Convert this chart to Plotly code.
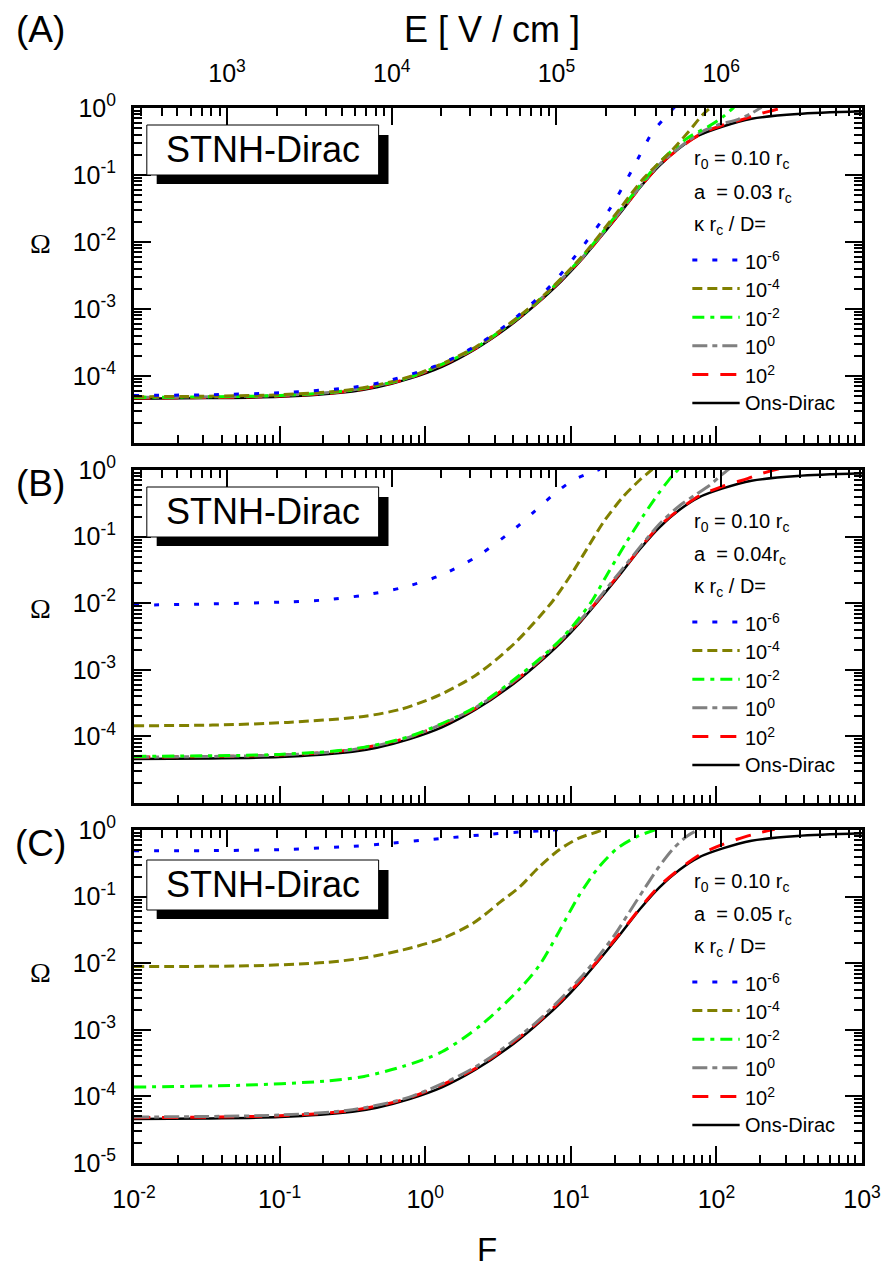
import numpy as np
import plotly.graph_objects as go

# ---------------- data (log10 values) ----------------
# Ons-Dirac reference curve (same in all panels)
ONS_logF = [-2.0, -1.5, -1.0, -0.5, -0.333, -0.108, 0.118, 0.344, 0.570, 0.751, 0.932,
            1.067, 1.203, 1.338, 1.474, 1.609, 1.745, 1.880, 2.038, 2.241, 2.557, 3.0]
ONS_logW = [-4.34, -4.33, -4.31, -4.23, -4.17, -4.04, -3.86, -3.60, -3.27, -2.95, -2.59,
            -2.28, -1.93, -1.57, -1.19, -0.86, -0.60, -0.41, -0.28, -0.16, -0.09, -0.05]

# Panel A : a = 0.03 rc
A_m6_logF = [-2, -1.5, -1, -0.5, -0.288, 0.096, 0.355, 0.615, 0.875, 1.094, 1.270, 1.417, 1.559, 1.665, 1.72]
A_m6_logW = [-4.29, -4.28, -4.25, -4.17, -4.09, -3.83, -3.54, -3.14, -2.62, -2.03, -1.50, -0.94, -0.37, -0.10, 0.03]
A_m4_logF = [-2, -1, -0.5, -0.108, 0.344, 0.751, 1.067, 1.338, 1.50, 1.70, 1.81, 1.91, 1.97]
A_m4_logW = [-4.31, -4.28, -4.20, -4.01, -3.57, -2.92, -2.24, -1.50, -1.05, -0.62, -0.35, -0.09, 0.02]
A_m2_logF = [-2, -1, -0.5, -0.108, 0.344, 0.751, 1.067, 1.338, 1.609, 1.80, 1.95, 2.04, 2.12]
A_m2_logW = [-4.32, -4.29, -4.21, -4.02, -3.58, -2.93, -2.25, -1.53, -0.81, -0.45, -0.27, -0.14, 0.01]
A_p0_logF = [-2, -1, -0.5, -0.108, 0.344, 0.751, 1.067, 1.338, 1.609, 1.880, 2.0, 2.15, 2.24, 2.31]
A_p0_logW = [-4.32, -4.29, -4.21, -4.02, -3.58, -2.93, -2.26, -1.55, -0.84, -0.38, -0.26, -0.17, -0.08, 0.01]
A_p2_logF = [-2, -1, -0.5, -0.108, 0.344, 0.751, 1.067, 1.338, 1.609, 1.880, 2.038, 2.15, 2.24, 2.31, 2.38, 2.47]
A_p2_logW = [-4.33, -4.30, -4.22, -4.03, -3.59, -2.94, -2.27, -1.56, -0.85, -0.40, -0.26, -0.19, -0.13, -0.08, -0.04, 0.01]

# Panel B : a = 0.04 rc
B_m6_logF = [-2, -1.46, -0.943, -0.683, -0.424, -0.164, 0.096, 0.355, 0.615, 0.751, 0.886, 1.01, 1.135, 1.2]
B_m6_logW = [-2.03, -2.01, -1.98, -1.95, -1.88, -1.77, -1.59, -1.30, -0.88, -0.62, -0.36, -0.16, -0.04, 0.01]
B_m4_logF = [-2, -1.46, -0.943, -0.424, -0.164, 0.096, 0.355, 0.615, 0.875, 0.999, 1.112, 1.225, 1.36, 1.474, 1.56]
B_m4_logW = [-3.84, -3.83, -3.79, -3.70, -3.59, -3.38, -3.07, -2.60, -1.97, -1.58, -1.18, -0.78, -0.40, -0.15, 0.01]
B_m2_logF = [-2, -1, -0.5, -0.108, 0.344, 0.751, 0.95, 1.135, 1.247, 1.383, 1.5, 1.6, 1.7, 1.76]
B_m2_logW = [-4.30, -4.27, -4.19, -4.00, -3.56, -2.90, -2.50, -2.00, -1.58, -1.08, -0.68, -0.36, -0.08, 0.05]
B_p0_logF = [-2, -1, -0.5, -0.108, 0.344, 0.751, 1.067, 1.338, 1.609, 1.745, 1.85, 1.947, 2.038, 2.09]
B_p0_logW = [-4.31, -4.28, -4.20, -4.01, -3.57, -2.92, -2.25, -1.53, -0.81, -0.54, -0.38, -0.24, -0.07, 0.02]
B_p2_logF = [-2, -1, -0.5, -0.108, 0.344, 0.751, 1.067, 1.338, 1.609, 1.880, 2.038, 2.218, 2.30, 2.38, 2.43]
B_p2_logW = [-4.31, -4.28, -4.20, -4.01, -3.58, -2.93, -2.26, -1.55, -0.84, -0.39, -0.25, -0.125, -0.06, -0.01, 0.02]

# Panel C : a = 0.05 rc
C_m6_logF = [-2, -1.5, -1, -0.5, -0.288, 0.096, 0.383, 0.651, 0.85, 0.95]
C_m6_logW = [-0.31, -0.31, -0.295, -0.245, -0.21, -0.13, -0.075, -0.03, -0.005, 0.01]
C_m4_logF = [-2, -1.224, -0.688, -0.42, -0.152, 0.115, 0.329, 0.517, 0.651, 0.785, 0.918, 1.052, 1.186, 1.23]
C_m4_logW = [-2.05, -2.04, -1.99, -1.92, -1.80, -1.63, -1.40, -1.08, -0.85, -0.55, -0.30, -0.125, -0.025, 0.01]
C_m2_logF = [-2, -1.224, -0.688, -0.42, -0.152, 0.115, 0.383, 0.651, 0.785, 0.918, 1.052, 1.186, 1.32, 1.454, 1.59]
C_m2_logW = [-3.86, -3.83, -3.77, -3.70, -3.55, -3.33, -2.93, -2.38, -2.03, -1.53, -1.00, -0.575, -0.275, -0.10, 0.01]
C_p0_logF = [-2, -1, -0.5, -0.108, 0.344, 0.751, 1.067, 1.3, 1.4, 1.5, 1.6, 1.7, 1.8, 1.9]
C_p0_logW = [-4.31, -4.28, -4.20, -4.01, -3.56, -2.91, -2.22, -1.58, -1.24, -0.90, -0.57, -0.29, -0.09, 0.03]
C_p2_logF = [-2, -1, -0.5, -0.108, 0.344, 0.751, 1.067, 1.338, 1.609, 1.880, 2.038, 2.2, 2.3, 2.4]
C_p2_logW = [-4.32, -4.29, -4.21, -4.02, -3.58, -2.93, -2.26, -1.55, -0.84, -0.38, -0.22, -0.10, -0.04, 0.01]

SERIES_LABELS = ["10<sup>-6</sup>", "10<sup>-4</sup>", "10<sup>-2</sup>", "10<sup>0</sup>", "10<sup>2</sup>", "Ons-Dirac"]
PANEL_TAGS = ["(A)", "(B)", "(C)"]
A_TEXTS = ["a\u00a0\u00a0= 0.03 r<sub>c</sub>", "a\u00a0\u00a0= 0.04r<sub>c</sub>", "a\u00a0\u00a0= 0.05 r<sub>c</sub>"]
R0_TEXT = "r<sub>0</sub> = 0.10 r<sub>c</sub>"
KAPPA_TEXT = "\u03ba r<sub>c</sub> / D="
F_TICKS = [1e-2, 1e-1, 1e0, 1e1, 1e2, 1e3]
F_TICKTEXT = ["10<sup>-2</sup>", "10<sup>-1</sup>", "10<sup>0</sup>", "10<sup>1</sup>", "10<sup>2</sup>", "10<sup>3</sup>"]
E_TICKS = [1e3, 1e4, 1e5, 1e6]
E_TICKTEXT = ["10<sup>3</sup>", "10<sup>4</sup>", "10<sup>5</sup>", "10<sup>6</sup>"]
W_TICKS = [1e-5, 1e-4, 1e-3, 1e-2, 1e-1, 1e0]
W_TICKTEXT = ["10<sup>-5</sup>", "10<sup>-4</sup>", "10<sup>-3</sup>", "10<sup>-2</sup>", "10<sup>-1</sup>", "10<sup>0</sup>"]
E_RANGE = [2.435, 6.855]

# ---------------- styles ----------------
FONT = "Liberation Sans, Arial, sans-serif"
STYLES = [  # (color, dash, width)
    ("#0000FF", "5px,15px", 3),
    ("#808000", "10px,5px", 3),
    ("#00FF00", "12px,6px,4px,6px", 3),
    ("#808080", "15px,5px,5px,5px", 3),
    ("#FF0000", "16px,12px", 3),
    ("#000000", "solid", 2.5),
]

W, H = 893, 1273
ML, MR, MT, MB = 134, 21, 108, 110
PW, PH = W - ML - MR, H - MT - MB
PANEL_TOP = [108, 470, 830]
PANEL_BOT = [443, 803, 1163]


def px(xp, yp):
    return (xp - ML) / PW, (H - MB - yp) / PH


panels = [
    [(A_m6_logF, A_m6_logW), (A_m4_logF, A_m4_logW), (A_m2_logF, A_m2_logW),
     (A_p0_logF, A_p0_logW), (A_p2_logF, A_p2_logW), (ONS_logF, ONS_logW)],
    [(B_m6_logF, B_m6_logW), (B_m4_logF, B_m4_logW), (B_m2_logF, B_m2_logW),
     (B_p0_logF, B_p0_logW), (B_p2_logF, B_p2_logW), (ONS_logF, ONS_logW)],
    [(C_m6_logF, C_m6_logW), (C_m4_logF, C_m4_logW), (C_m2_logF, C_m2_logW),
     (C_p0_logF, C_p0_logW), (C_p2_logF, C_p2_logW), (ONS_logF, ONS_logW)],
]

fig = go.Figure()
draw_order = [5, 4, 3, 2, 1, 0]
for p, series in enumerate(panels):
    xa = "x" if p == 0 else f"x{p+1}"
    ya = "y" if p == 0 else f"y{p+1}"
    for k in draw_order:
        lf, lw = series[k]
        col, dash, wid = STYLES[k]
        fig.add_trace(go.Scatter(
            x=np.power(10.0, lf), y=np.power(10.0, lw), mode="lines",
            line=dict(color=col, dash=dash, width=wid, shape="spline", smoothing=0.8),
            xaxis=xa, yaxis=ya, showlegend=False, hoverinfo="skip",
            name=SERIES_LABELS[k]))
    # empty helper trace so the top E axis is attached to this panel
    fig.add_trace(go.Scatter(x=[], y=[], xaxis=f"x{p+4}", yaxis=ya,
                             showlegend=False, hoverinfo="skip"))

axis_common = dict(type="log", showline=True, linewidth=3, linecolor="black",
                   ticks="inside", ticklen=17, tickwidth=2, tickcolor="black",
                   showgrid=False, zeroline=False,
                   tickfont=dict(family=FONT, size=25, color="black"),
                   minor=dict(ticks="inside", ticklen=8, tickwidth=2, tickcolor="black",
                              dtick="D1", showgrid=False))

layout = dict(width=W, height=H, margin=dict(l=ML, r=MR, t=MT, b=MB),
              paper_bgcolor="white", plot_bgcolor="white",
              font=dict(family=FONT, color="black"), showlegend=False)

shapes = []
annotations = []
TAG_Y = [30, 483, 843]
OMEGA_Y = [243, 608, 972]
for p in range(3):
    top, bot = PANEL_TOP[p], PANEL_BOT[p]
    d0 = (H - MB - bot) / PH
    d1 = (H - MB - top) / PH
    xa = "xaxis" if p == 0 else f"xaxis{p+1}"
    ya = "yaxis" if p == 0 else f"yaxis{p+1}"
    xref = "x" if p == 0 else f"x{p+1}"
    yref = "y" if p == 0 else f"y{p+1}"
    layout[xa] = dict(axis_common, domain=[0, 1], anchor=yref, range=[-2, 3],
                      tickmode="array", tickvals=F_TICKS, ticktext=F_TICKTEXT,
                      showticklabels=(p == 2), ticklabelstandoff=12, side="bottom")
    wt = list(W_TICKTEXT)
    if p < 2:
        wt[0] = ""
    layout[ya] = dict(axis_common, domain=[d0, d1], anchor=xref, range=[-5, 0],
                      tickmode="array", tickvals=W_TICKS, ticktext=wt,
                      mirror="ticks", ticklabelstandoff=10)
    layout[f"xaxis{p+4}"] = dict(axis_common, overlaying=xref, anchor=yref, side="top",
                                 range=E_RANGE, tickmode="array", tickvals=E_TICKS,
                                 ticktext=E_TICKTEXT, showticklabels=(p == 0),
                                 ticklabelstandoff=13)

    # panel tag and Omega label
    x0, y0 = px(39, TAG_Y[p])
    annotations.append(dict(text=PANEL_TAGS[p], x=x0, y=y0, xref="paper", yref="paper",
                             showarrow=False, xanchor="center", yanchor="middle",
                             font=dict(family=FONT, size=37)))
    xo, yo = px(39, OMEGA_Y[p])
    annotations.append(dict(text="\u03a9", x=xo, y=yo, xref="paper", yref="paper",
                            showarrow=False, xanchor="center", yanchor="middle",
                            font=dict(family="Liberation Serif, Times New Roman, serif", size=28)))

    # STNH-Dirac box with shadow
    btop = top + (30 if p == 2 else 17)
    bx0, by0 = px(157, btop + 10)
    bx1, by1 = px(392, btop + 59)
    shapes.append(dict(type="rect", xref="paper", yref="paper", x0=bx0, x1=bx1, y0=by0, y1=by1,
                       fillcolor="black", line=dict(width=0), layer="above"))
    bx0, by0 = px(147, btop)
    bx1, by1 = px(382, btop + 50)
    shapes.append(dict(type="rect", xref="paper", yref="paper", x0=bx0, x1=bx1, y0=by0, y1=by1,
                       fillcolor="white", line=dict(color="black", width=1), layer="above"))
    tx, ty = px(264.5, btop + 25)
    annotations.append(dict(text="STNH-Dirac", x=tx, y=ty, xref="paper", yref="paper",
                            showarrow=False, xanchor="center", yanchor="middle",
                            font=dict(family=FONT, size=36)))

    # parameter texts
    for txt, off in [(R0_TEXT, 52), (A_TEXTS[p], 85), (KAPPA_TEXT, 117)]:
        ax_, ay_ = px(700, top + off)
        annotations.append(dict(text=txt, x=ax_, y=ay_, xref="paper", yref="paper",
                                showarrow=False, xanchor="left", yanchor="middle",
                                font=dict(family=FONT, size=20)))
    # legend entries
    for k in range(6):
        yy = top + 152 + k * 28.6
        col, dash, wid = STYLES[k]
        lx0, ly = px(700, yy)
        lx1, _ = px(748, yy)
        shapes.append(dict(type="line", xref="paper", yref="paper", x0=lx0, x1=lx1, y0=ly, y1=ly,
                           line=dict(color=col, dash=dash, width=wid), layer="above"))
        tx, ty = px(751, yy)
        annotations.append(dict(text=SERIES_LABELS[k], x=tx, y=ty, xref="paper", yref="paper",
                                showarrow=False, xanchor="left", yanchor="middle",
                                font=dict(family=FONT, size=20)))

# axis titles
ex, ey = px(497, 29)
annotations.append(dict(text="E [ V / cm ]", x=ex, y=ey, xref="paper", yref="paper",
                        showarrow=False, xanchor="center", yanchor="middle",
                        font=dict(family=FONT, size=36)))
fx, fy = px(492, 1249)
annotations.append(dict(text="F", x=fx, y=fy, xref="paper", yref="paper",
                        showarrow=False, xanchor="center", yanchor="middle",
                        font=dict(family=FONT, size=33)))

layout["shapes"] = shapes
layout["annotations"] = annotations
fig.update_layout(**layout)
fig.write_html("out.html", config={"displayModeBar": False},
               post_script="document.body.style.margin='0px';")
